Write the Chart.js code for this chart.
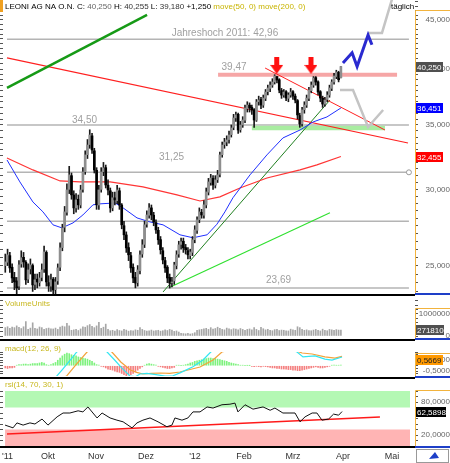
<!DOCTYPE html>
<html>
<head>
<meta charset="utf-8">
<title>LEONI AG NA O.N.</title>
<script src="https://cdn.jsdelivr.net/npm/chart.js@4.4.1/dist/chart.umd.min.js"></script>
<style>
  html, body { margin: 0; padding: 0; background: #fff; }
  #wrap { position: relative; width: 450px; height: 463px; overflow: hidden; }
  #wrap canvas { position: absolute; left: 0; }
</style>
</head>
<body>
<div id="wrap">
  <canvas id="priceChart" width="450" height="296" style="top:0px"></canvas>
  <canvas id="volChart" width="450" height="45" style="top:296px"></canvas>
  <canvas id="macdChart" width="450" height="38" style="top:341px"></canvas>
  <canvas id="rsiChart" width="450" height="84" style="top:379px"></canvas>
</div>
<script>
const FONT = '"Liberation Sans", Arial, sans-serif';

// x = trading day index, day 0 = 1 Sep 2011
const firstDay = 4;
const opens = [
  25.0,25.2,25.6,24.9,24.3,24.1,23.8,25.1,25.5,25.2,
  24.2,24.8,25.0,23.9,24.2,24.0,24.3,24.8,25.8,24.0,
  23.8,24.2,23.6,24.1,24.9,26.1,27.4,28.4,30.0,31.0,
  29.6,28.7,29.3,28.9,30.0,31.3,32.6,33.4,34.1,32.9,
  31.4,28.9,30.0,31.3,31.6,30.3,29.9,28.7,29.4,29.2,
  29.9,28.9,27.5,26.9,26.1,25.6,24.9,24.3,24.0,24.7,
  25.7,26.3,27.6,28.2,28.7,28.2,27.7,27.2,26.6,25.9,
  25.3,24.9,24.3,24.0,24.1,25.0,25.7,26.3,26.5,26.1,
  25.9,25.6,25.8,26.6,27.2,27.9,28.4,28.2,28.9,29.8,
  30.5,30.8,30.3,30.7,31.1,32.6,33.4,33.6,33.8,34.2,
  34.8,35.6,35.9,34.6,35.0,35.4,36.4,36.7,36.5,36.3,
  35.4,37.0,37.2,36.7,37.3,37.9,38.2,38.5,38.8,39.3,
  39.0,38.0,37.6,37.9,37.3,37.6,37.9,37.5,37.1,35.8,
  35.1,36.3,36.7,37.3,38.0,38.5,39.2,38.8,37.9,37.3,
  36.8,37.2,37.6,38.2,38.8,39.3,39.7,39.2
];
const highs = [
  25.7,26.0,25.8,25.1,24.6,24.3,25.3,25.9,25.8,25.3,
  25.1,25.4,25.1,24.5,24.5,24.6,25.1,26.2,25.9,24.4,
  24.5,24.3,24.3,25.1,26.4,27.6,28.8,30.4,31.7,31.2,
  29.9,29.7,29.6,30.3,31.6,32.9,33.8,34.6,34.3,33.1,
  31.6,30.3,31.6,32.0,31.8,30.7,30.1,29.8,29.8,30.3,
  30.1,29.0,27.8,27.1,26.4,25.8,25.1,24.6,25.0,25.9,
  26.6,27.8,28.5,29.0,28.9,28.4,27.9,27.4,26.8,26.1,
  25.5,25.0,24.5,24.3,25.2,25.9,26.5,26.7,26.7,26.3,
  26.1,26.0,26.8,27.5,28.1,28.7,28.6,29.2,30.1,30.8,
  31.1,31.0,31.0,31.4,32.8,33.6,33.9,34.1,34.5,35.0,
  35.9,36.1,36.0,35.3,35.7,36.7,37.0,36.9,36.7,36.4,
  37.2,37.5,37.4,37.6,38.1,38.5,38.8,39.1,39.47,39.3,
  39.1,38.2,38.1,38.0,37.8,38.2,38.0,37.7,37.2,36.0,
  36.5,37.0,37.6,38.3,38.8,39.3,39.3,38.9,38.0,37.5,
  37.4,37.9,38.5,39.0,39.6,39.9,39.8,40.255
];
const lows = [
  24.6,25.0,24.6,24.0,23.6,23.3,23.6,24.9,24.9,23.9,
  24.0,24.5,23.5,23.6,23.7,23.8,24.1,24.6,23.8,23.5,
  23.5,23.2,23.3,23.9,24.7,25.9,27.1,28.2,29.7,29.3,
  28.3,28.4,28.6,28.7,29.8,31.1,32.3,33.1,32.7,31.2,
  28.6,28.6,29.8,31.0,30.1,29.6,28.4,28.5,28.9,29.0,
  28.6,27.3,26.6,25.8,25.3,24.6,24.0,23.7,23.8,24.5,
  25.5,26.1,27.4,28.0,27.9,27.5,27.0,26.3,25.7,25.1,
  24.6,24.0,23.69,23.75,23.9,24.8,25.5,26.0,25.8,25.7,
  25.4,25.4,25.6,26.4,27.0,27.7,28.0,28.0,28.7,29.6,
  30.3,30.0,30.1,30.5,30.9,32.4,33.1,33.3,33.5,34.0,
  34.6,35.3,34.3,34.4,34.8,35.2,36.1,36.1,35.9,34.8,
  35.3,36.7,36.4,36.5,37.1,37.6,37.9,38.3,38.6,38.7,
  37.8,37.3,37.4,37.1,37.0,37.4,37.2,36.9,35.5,34.8,
  34.9,36.0,36.5,37.1,37.8,38.3,38.5,37.6,37.0,36.5,
  36.6,37.0,37.4,38.0,38.6,39.1,38.8,39.18
];
const closes = [
  25.22,25.65,24.86,24.27,24.04,23.70,25.04,25.47,25.22,24.16,
  24.74,25.04,23.87,24.16,24.04,24.27,24.74,25.83,24.04,23.81,
  24.16,23.58,24.04,24.86,26.08,27.36,28.43,29.96,31.06,29.61,
  28.70,29.25,28.91,29.96,31.28,32.58,33.36,34.17,32.97,31.43,
  28.91,29.96,31.28,31.58,30.32,29.96,28.70,29.40,29.25,29.96,
  28.91,27.56,26.91,26.08,25.65,24.86,24.27,23.98,24.74,25.65,
  26.27,27.56,28.22,28.70,28.22,27.75,27.23,26.59,25.96,25.34,
  24.86,24.27,23.98,24.04,25.04,25.65,26.27,26.46,26.08,25.96,
  25.65,25.83,26.59,27.23,27.89,28.43,28.22,28.91,29.82,30.54,
  30.83,30.32,30.69,31.06,32.58,33.36,33.60,33.77,34.17,34.75,
  35.59,35.85,34.58,35.00,35.42,36.45,36.71,36.45,36.28,35.42,
  36.98,37.15,36.71,37.33,37.87,38.24,38.51,38.79,39.35,38.97,
  38.05,37.60,37.87,37.33,37.60,37.87,37.50,37.15,35.85,35.08,
  36.28,36.71,37.33,38.05,38.51,39.16,38.79,37.87,37.33,36.80,
  37.15,37.60,38.24,38.79,39.35,39.73,39.00,40.25
];
// volume in 1000 shares
const volumes = [
  380,420,350,400,380,460,390,340,420,650,300,360,600,350,320,410,380,300,340,360,330,
  320,360,300,400,450,420,580,460,260,280,300,250,320,420,400,470,520,440,380,460,620,350,
  400,540,300,240,260,220,290,250,230,300,270,220,250,240,280,260,380,300,250,220,240,
  270,230,250,260,220,240,280,250,300,270,210,230,180,120,110,100,120,90,110,150,260,280,
  300,330,350,300,380,320,340,400,350,300,280,360,330,290,330,310,280,340,300,260,300,
  320,280,380,300,250,390,330,280,300,260,240,290,300,250,270,260,240,230,310,280,260,
  420,380,300,260,280,250,240,270,300,260,230,310,260,240,300,280,260,290,270,271.81
];
const macdHist = [
  -0.2,-0.25,-0.2,-0.2,-0.15,
  0.05,0.1,0.1,0.15,0.15,0.1,0.15,0.2,0.2,0.2,0.25,0.3,
  0.25,0.1,0.05,0.1,
  0.2,0.3,0.5,0.7,0.9,1.05,1.15,
  1.1,1.0,0.95,0.9,0.8,0.75,0.7,0.65,0.6,
  0.5,0.4,0.25,0.1,
  0.05,-0.05,
  -0.1,-0.2,-0.3,-0.35,-0.4,-0.5,-0.55,-0.6,-0.7,-0.8,-0.9,-0.85,-0.8,-0.7,-0.55,-0.4,-0.25,
  -0.1,0.05,0.15,0.2,
  0.15,0.1,0.05,
  -0.05,-0.1,-0.15,-0.2,-0.25,-0.25,-0.2,-0.15,
  0.05,0.05,0.02,0.05,
  0.1,0.15,0.25,0.3,0.4,0.45,0.5,0.55,0.6,0.65,0.7,0.7,0.65,0.65,0.6,0.55,0.5,
  0.45,0.4,0.3,0.25,0.2,0.15,0.1,
  0.05,0.05,0.03,0.03,0.02,
  -0.05,-0.08,-0.05,-0.08,-0.1,-0.05,-0.08,
  -0.1,-0.15,-0.2,-0.2,-0.25,-0.25,-0.3,-0.3,-0.3,-0.35,-0.35,-0.4,-0.4,-0.45,-0.45,-0.4,-0.35,-0.3,-0.25,-0.2,-0.15,-0.1,
  -0.15,-0.2,-0.2,-0.15,-0.1,-0.05,
  0.05,0.05,0.05,0.05,0.05
];
const macdLine = [[4,-2.0],[15,-1.7],[24,-1.4],[26.7,-0.9],[29,-0.35],[31,0.15],[33,0.65],[35.3,1.25],[40,1.9],
  [45,1.8],[48.6,1.25],[52,0.5],[55,-0.2],[58.6,-0.93],[61,-1.0],[63,-0.75],[66,-0.7],[70,-0.8],[74,-0.95],
  [77,-0.95],[80.5,-0.65],[86.2,-0.1],[90.6,0.52],[94,1.25],[100,2.0],[112,2.2],[124,1.9],[131.8,1.25],
  [134.4,0.8],[137,0.85],[139.7,0.89],[144,0.61],[147.1,0.52],[151.5,0.8]];
const signalLine = [[4,-1.6],[20,-1.6],[28,-1.3],[31,-0.9],[35,0.1],[39.8,1.25],[44,1.7],[48,1.6],[50.7,1.25],
  [54.6,0.34],[58.8,-0.39],[61.5,-0.6],[64.3,-0.75],[68,-0.7],[72,-0.66],[76,-0.7],[80.5,-0.57],[89.3,-0.11],
  [95,0.52],[98.9,1.25],[110,1.9],[125,1.8],[134,1.16],[138.4,1.07],[144,0.8],[148.4,0.7],[151.5,0.85]];
const macdLast = 0.5669;

const rsiLine = [[3.9,38],[7.4,33],[9.1,42],[11.8,38],[14.8,42],[17,40],[20.1,49],[22.7,38],[26.7,53],[29.3,60],
  [32.3,60],[35.9,64],[38,62],[40.2,71],[44.2,51],[46.4,60],[49.9,51],[52.9,47],[55.6,44],[59.5,33],[61.7,42],
  [64.3,47],[67.4,51],[70.9,44],[74.8,35],[77,38],[78.3,51],[81.4,47],[84,51],[86.2,62],[89.3,62],[92.4,71],
  [95,69],[98.9,75],[102.4,76],[104.6,78],[105.9,62],[109,75],[112.5,67],[116.9,71],[120,65],[122.1,69],
  [125.6,60],[128.7,60],[130.9,60],[133.1,44],[135.3,53],[138.4,60],[140.5,60],[142.7,47],[145.6,49],
  [147.8,58],[150,56],[151.5,62.5898]];
const rsiTrend = [[4.75,21.8],[168.1,52.7]];
const rsiUpperZone = [[3.9,100],[181.3,100]];
const rsiLowerZone = [[3.9,30],[181.3,30]];

const ma50 = [[4.75,32.19],[10.4,30.54],[16.1,29.11],[20.5,28.43],[24.9,27.56],[28.8,27.36],[33.7,27.69],[38,28.22],
  [42.4,28.91],[45.5,28.98],[52.1,29.04],[55.6,28.70],[61.7,28.02],[67.4,27.75],[73.1,27.56],[80.5,26.91],
  [86.2,26.72],[92.4,26.91],[96.7,27.6],[100.2,28.43],[103.7,29.40],[111.2,31.06],[118.6,32.58],[125.6,33.93],
  [133.1,34.58],[138.8,35.25],[144.9,35.68],[151,36.451]];
const ma200 = [[4.75,32.34],[16.1,31.43],[28,30.61],[36.7,30.54],[49.9,30.54],[64.3,30.18],[79.2,29.61],[89.3,29.18],
  [98,29.47],[106.8,30.10],[118.6,30.83],[133.1,31.43],[140.5,31.81],[151,32.455]];

const greenTrend = [[4.75,38.24],[66.1,45.54]];
const redLongTrend = [[4.75,41.09],[180.4,33.52]];
const redShortTrend = [[117.8,40.11],[170.3,34.58]];
const darkGreenTrend = [[73.1,23.47],[146.2,37.15]];
const lightGreenTrend = [[76.1,23.74],[146.2,28.37]];
const blueProjection = [[151.9,40.6],[155.9,41.6],[158.1,40.26],[162.9,43.4],[164.6,42.4]];
const greyUpProjection = [[162.9,43.62],[169.0,43.62],[173.4,47.3]];
const greyDownProjection = [[150.6,38.05],[156.3,38.05],[162.9,34.83],[169.5,36.28]];

const levelValues = [42.96, 35.0, 31.25, 27.8, 23.69];
const levelLabels = ['Jahreshoch 2011: 42,96', '34,50', '31,25', '', '23,69'];
const levelLabelDays = [100.2, 38.7, 76.8, null, 123.7];
const levelLabelPrices = [43.31, 35.13, 32.19, null, 23.98];
const levelStart = 4.75, levelEnd = 180.8;
const resistBand = [[97.2,39.47],[175.6,39.47]];
const resistLabel = ['39,47', 104.2, 39.92];
const supportBand = [[112,34.75],[170.3,34.75]];
const arrowDays = [122.9, 137.9];
const arrowPrice = 40.36;

const monthDays = [5, 22.7, 43.7, 65.6, 87.1, 108.6, 130, 151.9, 173.4];
const monthLabels = ["'11", 'Okt', 'Nov', 'Dez', "'12", 'Feb', 'Mrz', 'Apr', 'Mai'];
const priceLabelTicks = [25, 30, 35, 40, 45];

const xMin = 3, xMax = 183.46;
const days = closes.map((c, i) => firstDay + i);
const last = closes.length - 1;

const fmt = (v, d) => v.toFixed(d).replace('.', ',');
const pts = arr => arr.map(p => ({ x: p[0], y: p[1] }));
const range = (a, b, step) => { const out = []; for (let v = a; v <= b + 1e-9; v += step) out.push(Math.round(v * 1000) / 1000); return out; };

function lineDs(points, color, width, order, extra) {
  return Object.assign({
    type: 'line', data: pts(points), borderColor: color, borderWidth: width,
    pointRadius: 0, fill: false, tension: 0, order: order
  }, extra || {});
}

function sideAxes(type, min, max, tickVals, labelFn) {
  const common = {
    type: type, min: min, max: max,
    afterBuildTicks: s => { s.ticks = tickVals.map(v => ({ value: v })); },
    grid: { drawOnChartArea: false, drawTicks: true, tickLength: 3, color: '#555' },
    border: { display: false }
  };
  return {
    y: Object.assign({}, common, {
      position: 'right',
      afterFit: s => { s.width = 35; s.paddingTop = 0; s.paddingBottom = 0; },
      ticks: { autoSkip: false, maxRotation: 0, crossAlign: 'far', padding: 2, color: '#666',
               font: { family: FONT, size: 8 }, callback: v => labelFn(v) }
    }),
    yl: Object.assign({}, common, {
      position: 'left',
      afterFit: s => { s.width = 3; s.paddingTop = 0; s.paddingBottom = 0; },
      ticks: { display: false }
    })
  };
}

function baseOptions(axes, padding, xExtra) {
  return {
    responsive: false, animation: false, events: [], devicePixelRatio: 1,
    layout: { padding: padding, autoPadding: false },
    plugins: { legend: { display: false }, tooltip: { enabled: false } },
    scales: Object.assign({
      x: Object.assign({ type: 'linear', min: xMin, max: xMax, display: false, offset: false }, xExtra || {})
    }, axes)
  };
}

// orange frame round the value axis, blue bottom edge, black panel separator
function drawFrame(chart, top, bottom, sepY) {
  const ctx = chart.ctx, r = chart.chartArea.right, w = chart.width;
  ctx.save();
  ctx.strokeStyle = '#f2b33d'; ctx.lineWidth = 1;
  ctx.beginPath(); ctx.moveTo(r + 0.5, bottom); ctx.lineTo(r + 0.5, top + 0.5); ctx.lineTo(w, top + 0.5); ctx.stroke();
  ctx.strokeStyle = '#1e3fc8'; ctx.lineWidth = 2;
  ctx.beginPath(); ctx.moveTo(r, bottom); ctx.lineTo(w, bottom); ctx.stroke();
  ctx.strokeStyle = '#000'; ctx.lineWidth = 2;
  ctx.beginPath(); ctx.moveTo(0, sepY); ctx.lineTo(r, sepY); ctx.stroke();
  ctx.restore();
}

function valueBox(chart, value, text, bg, fg, w) {
  const ctx = chart.ctx, y = Math.round(chart.scales.y.getPixelForValue(value)), x = chart.chartArea.right + 1;
  ctx.save();
  ctx.fillStyle = bg; ctx.fillRect(x, y - 5, w, 10);
  ctx.fillStyle = fg; ctx.font = '8px ' + FONT; ctx.textBaseline = 'middle'; ctx.textAlign = 'left';
  ctx.fillText(text, x + 1, y + 0.5);
  ctx.restore();
}

function panelLabel(chart, text, y) {
  const ctx = chart.ctx;
  ctx.save();
  ctx.font = '8px ' + FONT; ctx.fillStyle = '#c8b820'; ctx.textBaseline = 'alphabetic';
  ctx.fillText(text, 5, y);
  ctx.restore();
}

const arrowImg = (() => {
  const c = document.createElement('canvas'); c.width = 13; c.height = 17;
  const g = c.getContext('2d'); g.fillStyle = '#ff1010';
  g.fillRect(4, 0, 5, 9);
  g.beginPath(); g.moveTo(0, 8); g.lineTo(13, 8); g.lineTo(6.5, 17); g.closePath(); g.fill();
  return c;
})();

// ---------- price panel ----------
const priceAxes = sideAxes('logarithmic', 23.3, 47.2, range(23.5, 47, 0.5),
  v => priceLabelTicks.includes(v) ? fmt(v, 3) : '');

const levelSets = levelValues.map((v, i) => lineDs([[levelStart, v], [levelEnd, v]], '#b4b4b4', 1.5, 9,
  i === 2 ? { pointRadius: [0, 2.5], pointBackgroundColor: '#fff', pointBorderColor: '#999', pointBorderWidth: 1 } : {}));

new Chart(document.getElementById('priceChart'), {
  type: 'bar',
  data: {
    datasets: [
      { type: 'line', data: arrowDays.map(d => ({ x: d, y: arrowPrice })), showLine: false,
        pointStyle: arrowImg, pointRadius: 8, order: 0 },
      lineDs(blueProjection, '#2a2ad0', 3, 1),
      lineDs(greyUpProjection, '#c4c4c4', 2.5, 2),
      lineDs(greyDownProjection, '#c4c4c4', 2.5, 2),
      { data: days.map((d, i) => ({ x: d, y: [opens[i], closes[i]] })), grouped: false, barThickness: 2,
        borderWidth: 0,
        backgroundColor: c => closes[c.dataIndex] >= opens[c.dataIndex] ? '#8e8e8e' : '#000', order: 3 },
      { data: days.map((d, i) => ({ x: d, y: [lows[i], highs[i]] })), grouped: false, barThickness: 1,
        backgroundColor: '#1a1a1a', order: 4 },
      lineDs(ma50, '#2030ff', 1, 5),
      lineDs(ma200, '#ff3535', 1.2, 5),
      lineDs(greenTrend, '#169a16', 2.5, 5),
      lineDs(redLongTrend, '#ff2020', 1.2, 5),
      lineDs(redShortTrend, '#ff2020', 1, 5),
      lineDs(darkGreenTrend, '#1f7f1f', 1, 5),
      lineDs(lightGreenTrend, '#30e030', 1.2, 5),
      lineDs(resistBand, '#f6a6a6', 4, 8),
      lineDs(supportBand, '#a8eca0', 4.5, 8)
    ].concat(levelSets)
  },
  options: baseOptions(priceAxes, { top: 0, bottom: 1, left: 0, right: 0 }),
  plugins: [{
    id: 'priceDeco',
    afterDatasetsDraw(chart) {
      const ctx = chart.ctx, xs = chart.scales.x, ys = chart.scales.y;
      ctx.save();
      ctx.font = '10px ' + FONT; ctx.fillStyle = '#a0a0a0'; ctx.textAlign = 'center'; ctx.textBaseline = 'alphabetic';
      levelLabels.forEach((t, i) => {
        if (t) ctx.fillText(t, xs.getPixelForValue(levelLabelDays[i]), ys.getPixelForValue(levelLabelPrices[i]));
      });
      ctx.fillText(resistLabel[0], xs.getPixelForValue(resistLabel[1]), ys.getPixelForValue(resistLabel[2]));
      ctx.restore();
    },
    afterDraw(chart) {
      const ctx = chart.ctx;
      drawFrame(chart, 10, 294, 295);
      valueBox(chart, closes[last], fmt(closes[last], 3), '#505050', '#fff', 27);
      valueBox(chart, ma50[ma50.length - 1][1], fmt(ma50[ma50.length - 1][1], 3), '#0000ff', '#fff', 27);
      valueBox(chart, ma200[ma200.length - 1][1], fmt(ma200[ma200.length - 1][1], 3), '#ff0000', '#fff', 27);
      ctx.save();
      ctx.fillStyle = '#f0a020'; ctx.fillRect(0, 0, 3, 12);
      ctx.font = '8px ' + FONT; ctx.textBaseline = 'alphabetic';
      const chg = closes[last] - closes[last - 1];
      const parts = [
        ['LEONI AG NA O.N. ', '#000'], ['C: ', '#000'], [fmt(closes[last], 3) + ' ', '#666'],
        ['H: ', '#000'], [fmt(highs[last], 3) + ' ', '#333'], ['L: ', '#000'], [fmt(lows[last], 3) + ' ', '#333'],
        [(chg >= 0 ? '+' : '') + fmt(chg, 3) + ' ', '#000'], ['move(50, 0) move(200, 0)', '#c8b400']
      ];
      let x = 5;
      parts.forEach(p => { ctx.fillStyle = p[1]; ctx.fillText(p[0], x, 9); x += ctx.measureText(p[0]).width; });
      ctx.fillStyle = '#000';
      ctx.fillText('täglich', 391, 9);
      ctx.restore();
    }
  }]
});

// ---------- volume panel ----------
const volAxes = sideAxes('linear', 0, 1727, range(0, 1600, 200),
  v => v === 1000 ? '1000000' : (v === 0 ? '0' : ''));

new Chart(document.getElementById('volChart'), {
  type: 'bar',
  data: {
    datasets: [{ data: days.map((d, i) => ({ x: d, y: volumes[i] })), grouped: false, barThickness: 1,
      backgroundColor: '#a6a6a6' }]
  },
  options: baseOptions(volAxes, { top: 2, bottom: 5, left: 0, right: 0 }),
  plugins: [{
    id: 'volDeco',
    afterDraw(chart) {
      panelLabel(chart, 'VolumeUnits', 10);
      drawFrame(chart, 12, 43, 44);
      valueBox(chart, volumes[last], String(Math.round(volumes[last] * 1000)), '#505050', '#fff', 28);
    }
  }]
});

// ---------- macd panel ----------
const macdAxes = sideAxes('linear', -0.932, 1.25, range(-0.75, 1.25, 0.25),
  v => v === 0.5 ? '0,5000' : (v === -0.5 ? '-0,5000' : ''));

new Chart(document.getElementById('macdChart'), {
  type: 'bar',
  data: {
    datasets: [
      lineDs(macdLine, '#33e6f2', 1.2, 1),
      lineDs(signalLine, '#f3a23a', 1.2, 1),
      { data: days.map((d, i) => ({ x: d, y: macdHist[i] })), grouped: false, barThickness: 1,
        backgroundColor: c => macdHist[c.dataIndex] >= 0 ? '#7ef27e' : '#f48080', order: 2 }
    ]
  },
  options: baseOptions(macdAxes, { top: 11, bottom: 3, left: 0, right: 0 }),
  plugins: [{
    id: 'macdDeco',
    afterDraw(chart) {
      panelLabel(chart, 'macd(12, 26, 9)', 10);
      drawFrame(chart, 12, 36, 37);
      valueBox(chart, macdLast, fmt(macdLast, 4), '#ff9900', '#222', 27);
    }
  }]
});

// ---------- rsi panel ----------
const rsiAxes = sideAxes('linear', 0, 100, range(0, 100, 10),
  v => (v === 20 || v === 80) ? fmt(v, 4) : '');

new Chart(document.getElementById('rsiChart'), {
  type: 'line',
  data: {
    datasets: [
      lineDs(rsiLine, '#111', 1, 1),
      lineDs(rsiTrend, '#ff1a1a', 1.5, 2),
      lineDs(rsiUpperZone, 'rgba(0,0,0,0)', 0, 5, { fill: { value: 70 }, backgroundColor: '#b4f8b4' }),
      lineDs(rsiLowerZone, 'rgba(0,0,0,0)', 0, 5, { fill: { value: 0 }, backgroundColor: '#ffb4b4' })
    ]
  },
  options: baseOptions(rsiAxes, { top: 12, bottom: 0, left: 0, right: 0 }, {
    display: true, position: 'bottom',
    afterBuildTicks: s => { s.ticks = monthDays.map(v => ({ value: v })); },
    afterFit: s => { s.height = 17; s.paddingLeft = 0; s.paddingRight = 0; },
    grid: { display: false, drawTicks: false }, border: { display: false },
    ticks: { autoSkip: false, maxRotation: 0, padding: 5, color: '#333', font: { family: FONT, size: 9 },
             callback: (v, i) => monthLabels[i] }
  }),
  plugins: [{
    id: 'rsiDeco',
    afterDraw(chart) {
      const ctx = chart.ctx, r = chart.chartArea.right, b = chart.chartArea.bottom;
      panelLabel(chart, 'rsi(14, 70, 30, 1)', 8);
      drawFrame(chart, 11, b + 1, b + 1);
      valueBox(chart, rsiLine[rsiLine.length - 1][1], fmt(rsiLine[rsiLine.length - 1][1], 4), '#000', '#fff', 30);
      ctx.save();
      ctx.strokeStyle = '#999'; ctx.lineWidth = 1;
      ctx.strokeRect(r + 1.5, b + 3.5, chart.width - r - 3, chart.height - b - 4);
      ctx.fillStyle = '#1e3fc8';
      ctx.beginPath(); ctx.moveTo(r + 14, b + 13); ctx.lineTo(r + 20, b + 6); ctx.lineTo(r + 24, b + 12); ctx.closePath(); ctx.fill();
      ctx.restore();
    }
  }]
});
</script>
</body>
</html>
